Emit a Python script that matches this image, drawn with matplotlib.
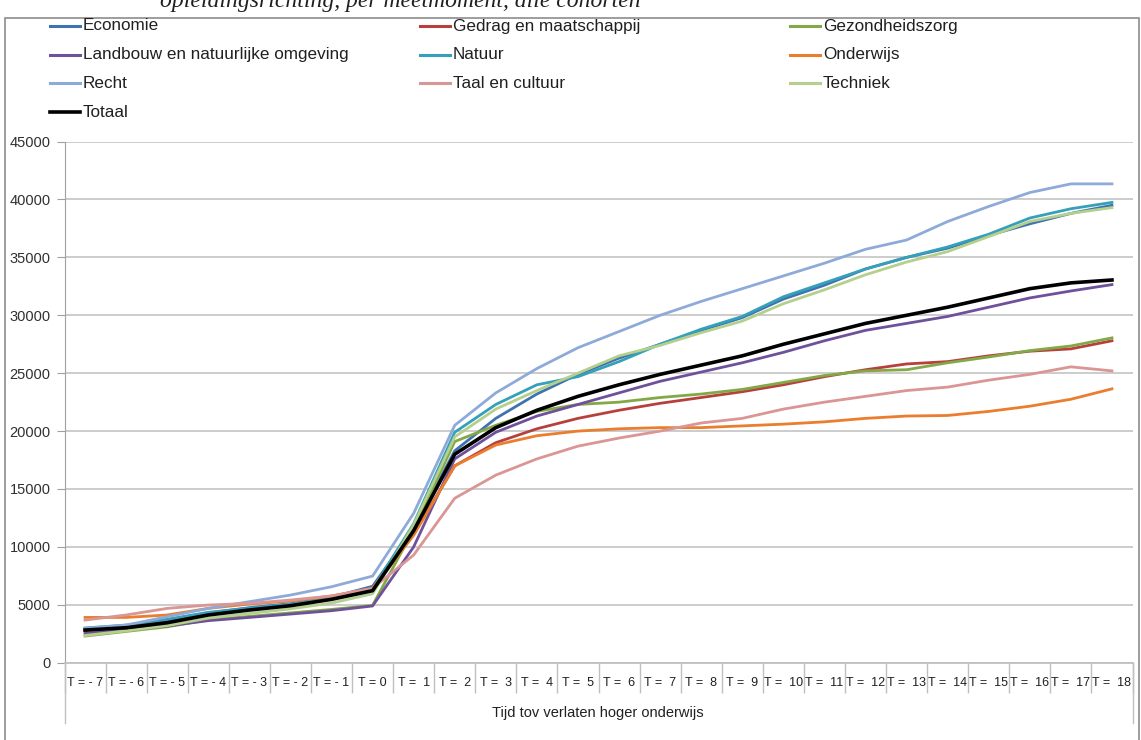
import matplotlib.pyplot as plt
import matplotlib as mpl
import numpy as np
from matplotlib.lines import Line2D
from matplotlib.patches import Rectangle

# tijdstippen t.o.v. verlaten hoger onderwijs
tijd = ['T = - 7', 'T = - 6', 'T = - 5', 'T = - 4', 'T = - 3', 'T = - 2', 'T = - 1', 'T = 0',
        'T =  1', 'T =  2', 'T =  3', 'T =  4', 'T =  5', 'T =  6', 'T =  7', 'T =  8',
        'T =  9', 'T =  10', 'T =  11', 'T =  12', 'T =  13', 'T =  14', 'T =  15',
        'T =  16', 'T =  17', 'T =  18']

economie = [2900, 3200, 3700, 4300, 4750, 5100, 5650, 6600, 11600, 18300, 21100, 23200, 24900,
            26300, 27500, 28700, 29800, 31400, 32600, 34000, 35000, 35800, 36900, 37900, 38800, 39500]
gedrag = [2750, 3100, 3500, 4200, 4600, 5000, 5550, 6400, 11100, 17000, 19000, 20200, 21100,
          21800, 22400, 22900, 23400, 24000, 24700, 25300, 25800, 26000, 26500, 26900, 27100, 27800]
gezondheidszorg = [2300, 2700, 3100, 3700, 4000, 4300, 4600, 4950, 11500, 19100, 20500, 21700, 22300,
                   22500, 22900, 23200, 23600, 24200, 24800, 25200, 25300, 25900, 26400, 26950, 27350, 28050]
landbouw = [2530, 2820, 3170, 3630, 3910, 4200, 4490, 4900, 10000, 17600, 19900, 21300, 22300,
            23300, 24300, 25100, 25900, 26800, 27800, 28700, 29300, 29900, 30700, 31500, 32100, 32650]
natuur = [3000, 3250, 3750, 4350, 4700, 5050, 5550, 6350, 12000, 19900, 22300, 24000, 24700,
          26000, 27500, 28800, 29900, 31600, 32800, 34000, 35000, 35900, 37000, 38400, 39200, 39750]
onderwijs = [3910, 3910, 4120, 4690, 5070, 5320, 5760, 6420, 11000, 17000, 18800, 19600, 20000,
             20200, 20300, 20300, 20450, 20600, 20800, 21100, 21300, 21350, 21700, 22150, 22750, 23650]
recht = [2960, 3250, 3970, 4690, 5270, 5840, 6560, 7480, 12900, 20500, 23300, 25400, 27200,
         28600, 30000, 31200, 32300, 33400, 34500, 35700, 36500, 38100, 39400, 40600, 41350, 41350]
taal = [3680, 4120, 4690, 4980, 5120, 5410, 5760, 6420, 9300, 14200, 16200, 17600, 18700,
        19400, 20000, 20700, 21100, 21900, 22500, 23000, 23500, 23800, 24400, 24900, 25550, 25200]
techniek = [2350, 2750, 3200, 3850, 4250, 4650, 5150, 5950, 11900, 19500, 21900, 23500, 25000,
            26500, 27400, 28500, 29500, 31000, 32200, 33500, 34600, 35500, 36800, 38100, 38800, 39300]
totaal = [2820, 3020, 3450, 4120, 4550, 4920, 5470, 6220, 11400, 18000, 20300, 21800, 23000,
          24000, 24900, 25700, 26500, 27500, 28400, 29300, 30000, 30700, 31500, 32300, 32800, 33050]

namen = ['Economie', 'Gedrag en maatschappij', 'Gezondheidszorg',
         'Landbouw en natuurlijke omgeving', 'Natuur', 'Onderwijs',
         'Recht', 'Taal en cultuur', 'Techniek', 'Totaal']
reeksen = [economie, gedrag, gezondheidszorg, landbouw, natuur, onderwijs,
           recht, taal, techniek, totaal]
kleuren = ['#4072b0', '#b8403c', '#82a848', '#6e519a', '#35a0ba', '#ea7d2e',
           '#8eaad8', '#d99694', '#b4d08c', '#000000']

plt.rcParams['font.family'] = ['Liberation Sans', 'DejaVu Sans']

W, H = 1141, 740
fig = plt.figure(figsize=(W / 100, H / 100), dpi=100)

# plot area in pixels
x0, x1 = 64.5, 1132.5
y_top, y_bot = 141.6, 662.7
ax = fig.add_axes([x0 / W, 1 - y_bot / H, (x1 - x0) / W, (y_bot - y_top) / H])

x = np.arange(len(tijd))
for naam, r, k in zip(namen, reeksen, kleuren):
    lw = 2.6 if naam == 'Totaal' else 2.0
    ax.plot(x, r, color=k, lw=lw, solid_joinstyle='round', zorder=3 if naam == 'Totaal' else 2)

ax.set_xlim(-0.5, len(tijd) - 0.5)
ax.set_ylim(0, 45000)
ax.set_yticks(np.arange(0, 45001, 5000))
ax.yaxis.grid(True, color='#c8c8c8', lw=1.3)
ax.set_axisbelow(True)
for s in ['top', 'right']:
    ax.spines[s].set_visible(False)
ax.spines['left'].set_color('#a0a0a0')
ax.spines['bottom'].set_color('#c0c0c0')
ax.spines['bottom'].set_linewidth(1.3)
ax.tick_params(axis='y', length=6, color='#a0a0a0', labelsize=10.5, labelcolor='#303030', pad=4)

# category separators as major ticks, labels on minor ticks
ax.set_xticks(np.arange(-0.5, len(tijd), 1))
ax.set_xticklabels([])
ax.set_xticks(x, minor=True)
ax.set_xticklabels(tijd, minor=True)
ax.tick_params(axis='x', which='major', length=21.5, color='#c0c0c0', width=1)
ax.tick_params(axis='x', which='minor', length=0, labelsize=9, labelcolor='#202020', pad=10)

tr = ax.get_xaxis_transform()
ax.plot([-0.5, -0.5], [0, -60 / (y_bot - y_top)], transform=tr, color='#c0c0c0', lw=1, clip_on=False)
ax.plot([len(tijd) - 0.5] * 2, [0, -60 / (y_bot - y_top)], transform=tr, color='#c0c0c0', lw=1, clip_on=False)

fig.text(598 / W, 1 - 713 / H, 'Tijd tov verlaten hoger onderwijs', ha='center', va='center',
         fontsize=10.5, color='#202020')

# legend, filled row by row like Excel
for i, (naam, k) in enumerate(zip(namen, kleuren)):
    rij, kol = i // 3, i % 3
    lx = 50 + kol * 370
    ly = 26 + rij * 28.7
    fig.add_artist(Line2D([lx / W, (lx + 30) / W], [1 - ly / H] * 2, color=k,
                          lw=2.6 if naam == 'Totaal' else 2.2))
    fig.text((lx + 33) / W, 1 - ly / H, naam, va='center', ha='left', fontsize=12.3, color='#202020')

# chart border
fig.add_artist(Rectangle((5 / W, -0.05), 1134 / W, 1 - 18 / H + 0.05, transform=fig.transFigure,
                         fill=False, edgecolor='#8c8c8c', lw=1.2))

# title, cut off at the top of the picture
fig.text(160 / W, 1 - 7 / H, 'opleidingsrichting, per meetmoment, alle cohorten', ha='left',
         va='baseline', fontsize=17, style='italic', family='Liberation Serif', color='#202020')

fig.savefig('out.png', dpi=100)
